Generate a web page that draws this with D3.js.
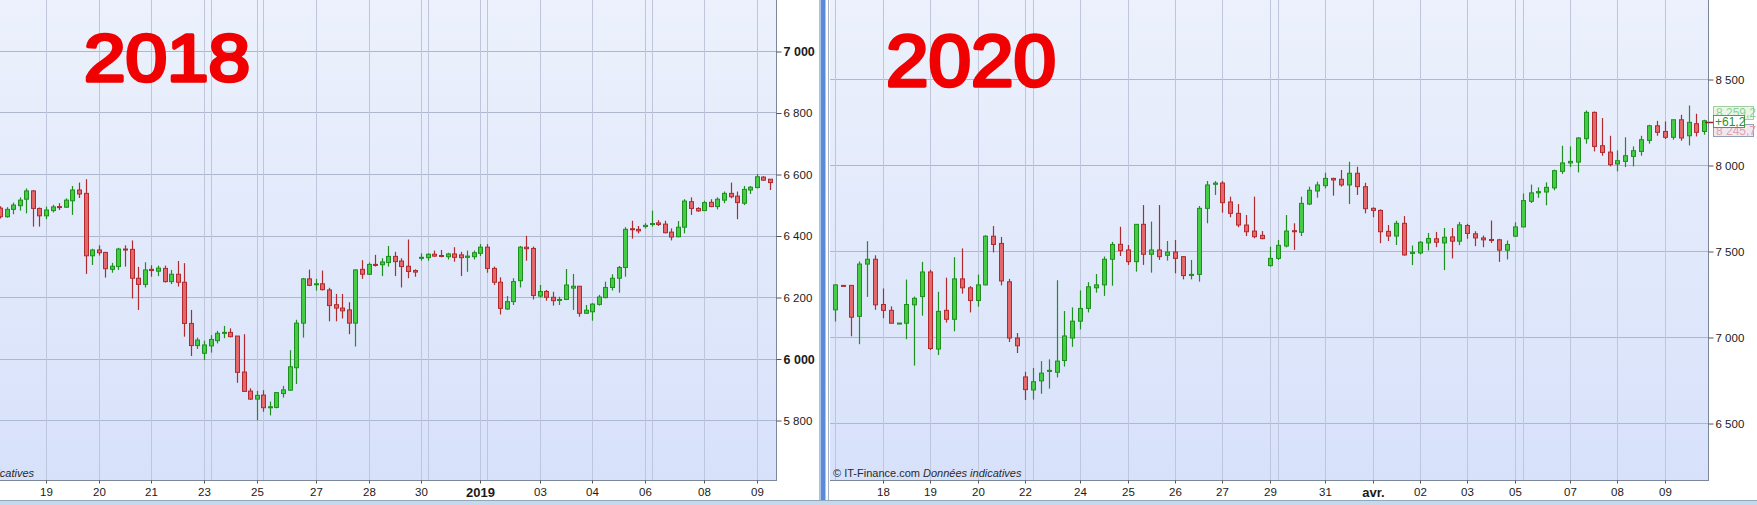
<!DOCTYPE html>
<html>
<head>
<meta charset="utf-8">
<script src="https://cdn.jsdelivr.net/npm/d3@7"></script>
<style>
  html, body { margin: 0; padding: 0; background: #fff; }
  svg { display: block; font-family: "Liberation Sans", Arial, sans-serif; }
</style>
</head>
<body>
<svg id="chart" width="1757" height="505"></svg>
<script>
// each candle is [open, high, low, close]
const candles2018 = [
  [6489, 6495, 6455, 6461], [6461, 6492, 6458, 6485], [6485, 6507, 6469, 6499], [6497, 6524, 6481, 6515],
  [6518, 6553, 6472, 6545], [6545, 6548, 6429, 6488], [6488, 6491, 6429, 6464], [6464, 6494, 6453, 6483],
  [6481, 6500, 6475, 6493], [6494, 6505, 6483, 6491], [6492, 6521, 6490, 6515], [6513, 6561, 6467, 6548],
  [6548, 6572, 6522, 6535], [6537, 6583, 6275, 6334], [6334, 6357, 6304, 6353], [6353, 6368, 6335, 6344],
  [6345, 6347, 6263, 6292], [6290, 6311, 6279, 6300], [6299, 6360, 6288, 6356], [6356, 6368, 6299, 6354],
  [6355, 6384, 6195, 6261], [6261, 6298, 6158, 6241], [6241, 6313, 6231, 6288], [6290, 6303, 6266, 6286],
  [6284, 6302, 6268, 6294], [6293, 6302, 6247, 6250], [6250, 6288, 6242, 6274], [6274, 6317, 6234, 6248],
  [6248, 6310, 6071, 6114], [6114, 6158, 6008, 6042], [6042, 6068, 6031, 6060], [6017, 6058, 5995, 6044],
  [6041, 6076, 6019, 6062], [6058, 6090, 6049, 6082], [6082, 6106, 6066, 6085], [6085, 6098, 6069, 6071],
  [6073, 6073, 5921, 5955], [5956, 6079, 5891, 5893], [5894, 5903, 5865, 5868], [5868, 5895, 5799, 5880],
  [5881, 5897, 5827, 5840], [5840, 5860, 5815, 5843], [5841, 5891, 5838, 5889], [5886, 5911, 5873, 5898],
  [5897, 6027, 5895, 5973], [5970, 6126, 5917, 6115], [6115, 6262, 6068, 6259], [6259, 6289, 6235, 6238],
  [6240, 6259, 6221, 6243], [6243, 6286, 6221, 6224], [6223, 6230, 6121, 6172], [6175, 6210, 6121, 6164],
  [6164, 6210, 6130, 6155], [6158, 6183, 6079, 6115], [6115, 6290, 6039, 6288], [6290, 6320, 6259, 6274],
  [6274, 6312, 6272, 6306], [6306, 6337, 6299, 6303], [6305, 6326, 6268, 6314], [6312, 6366, 6299, 6332],
  [6332, 6347, 6268, 6315], [6317, 6326, 6231, 6299], [6300, 6387, 6261, 6283], [6286, 6290, 6266, 6281],
  [6326, 6342, 6318, 6329], [6328, 6342, 6318, 6339], [6339, 6351, 6331, 6333], [6335, 6353, 6329, 6332],
  [6331, 6344, 6322, 6340], [6340, 6362, 6315, 6329], [6337, 6347, 6268, 6328], [6329, 6351, 6282, 6333],
  [6331, 6351, 6322, 6344], [6342, 6372, 6333, 6362], [6362, 6372, 6279, 6293], [6293, 6299, 6239, 6248],
  [6248, 6264, 6143, 6163], [6161, 6203, 6158, 6185], [6185, 6261, 6174, 6250], [6253, 6366, 6231, 6362],
  [6362, 6399, 6318, 6357], [6358, 6364, 6192, 6205], [6203, 6239, 6198, 6218], [6218, 6223, 6188, 6199],
  [6199, 6217, 6172, 6188], [6189, 6201, 6174, 6192], [6192, 6291, 6190, 6239], [6229, 6275, 6158, 6235],
  [6235, 6235, 6136, 6147], [6147, 6174, 6145, 6157], [6152, 6180, 6123, 6177], [6176, 6207, 6172, 6200],
  [6198, 6250, 6196, 6231], [6231, 6274, 6221, 6261], [6261, 6301, 6214, 6296], [6296, 6427, 6266, 6420],
  [6422, 6448, 6390, 6419], [6420, 6431, 6407, 6415], [6429, 6440, 6423, 6433], [6436, 6481, 6429, 6439],
  [6441, 6450, 6431, 6436], [6437, 6448, 6407, 6409], [6411, 6423, 6384, 6395], [6396, 6447, 6394, 6427],
  [6427, 6518, 6407, 6512], [6510, 6524, 6467, 6488], [6488, 6492, 6477, 6480], [6481, 6513, 6480, 6507],
  [6508, 6518, 6492, 6494], [6494, 6524, 6485, 6518], [6515, 6543, 6505, 6537], [6537, 6572, 6521, 6526],
  [6528, 6543, 6453, 6507], [6505, 6561, 6499, 6550], [6548, 6561, 6535, 6557], [6556, 6600, 6553, 6591],
  [6590, 6593, 6578, 6580], [6583, 6583, 6548, 6572]
]

const candles2020 = [
  [7158, 7305, 7090, 7303], [7300, 7300, 7296, 7296], [7300, 7302, 7004, 7115], [7120, 7439, 6958, 7424],
  [7424, 7557, 7233, 7452], [7452, 7475, 7158, 7187], [7189, 7282, 7109, 7155], [7155, 7178, 7080, 7080],
  [7079, 7081, 7079, 7081], [7080, 7334, 6987, 7189], [7187, 7235, 6834, 7225], [7235, 7437, 7124, 7378],
  [7378, 7391, 6924, 6933], [6930, 7263, 6895, 7149], [7155, 7345, 7084, 7103], [7103, 7464, 7033, 7338],
  [7338, 7515, 7252, 7286], [7286, 7296, 7143, 7212], [7212, 7363, 7176, 7303], [7303, 7592, 7300, 7586],
  [7586, 7645, 7492, 7538], [7544, 7582, 7300, 7326], [7321, 7338, 6971, 6994], [6994, 7023, 6907, 6949],
  [6768, 6798, 6634, 6694], [6692, 6820, 6636, 6740], [6745, 6860, 6670, 6790], [6800, 6870, 6700, 6806],
  [6795, 7330, 6765, 6860], [6863, 7151, 6828, 7006], [6994, 7172, 6943, 7092], [7092, 7271, 7044, 7166],
  [7166, 7319, 7143, 7292], [7286, 7366, 7258, 7303], [7303, 7468, 7239, 7452], [7452, 7553, 7298, 7538],
  [7539, 7641, 7471, 7502], [7506, 7535, 7419, 7438], [7438, 7655, 7380, 7655], [7655, 7767, 7419, 7481],
  [7481, 7671, 7374, 7506], [7506, 7767, 7448, 7467], [7475, 7558, 7444, 7494], [7494, 7564, 7370, 7457],
  [7467, 7471, 7335, 7357], [7358, 7448, 7335, 7364], [7364, 7762, 7322, 7748], [7748, 7907, 7661, 7884],
  [7888, 7907, 7826, 7895], [7895, 7907, 7723, 7781], [7785, 7816, 7696, 7719], [7719, 7773, 7638, 7651],
  [7651, 7709, 7587, 7612], [7616, 7816, 7574, 7583], [7591, 7616, 7568, 7572], [7415, 7525, 7409, 7457],
  [7457, 7564, 7448, 7533], [7529, 7709, 7521, 7616], [7618, 7661, 7506, 7612], [7609, 7816, 7587, 7777],
  [7773, 7874, 7767, 7853], [7849, 7903, 7810, 7884], [7880, 7955, 7864, 7922], [7922, 7926, 7822, 7913],
  [7917, 7971, 7874, 7884], [7884, 8019, 7773, 7952], [7952, 7990, 7826, 7874], [7874, 7897, 7719, 7746],
  [7748, 7754, 7696, 7736], [7736, 7742, 7545, 7612], [7614, 7651, 7558, 7587], [7587, 7676, 7535, 7661],
  [7661, 7703, 7473, 7477], [7486, 7532, 7418, 7493], [7489, 7557, 7480, 7551], [7547, 7605, 7503, 7573],
  [7571, 7611, 7522, 7551], [7547, 7634, 7389, 7580], [7582, 7634, 7457, 7557], [7557, 7669, 7534, 7652],
  [7648, 7658, 7571, 7602], [7600, 7615, 7528, 7576], [7576, 7590, 7522, 7565], [7567, 7677, 7547, 7561],
  [7565, 7571, 7437, 7505], [7505, 7561, 7451, 7538], [7586, 7667, 7582, 7640], [7640, 7834, 7638, 7793],
  [7789, 7886, 7779, 7838], [7838, 7870, 7809, 7845], [7843, 7899, 7766, 7870], [7867, 7973, 7853, 7967],
  [7963, 8112, 7948, 8012], [8012, 8108, 7988, 8021], [8017, 8162, 7957, 8157], [8153, 8317, 8124, 8306],
  [8306, 8311, 8079, 8108], [8112, 8273, 8054, 8073], [8075, 8170, 7992, 8002], [8006, 8085, 7963, 8025],
  [8021, 8161, 7988, 8054], [8050, 8108, 7992, 8083], [8079, 8170, 8054, 8147], [8143, 8234, 8124, 8228],
  [8228, 8257, 8170, 8190], [8195, 8253, 8151, 8161], [8161, 8263, 8147, 8263], [8263, 8292, 8141, 8157],
  [8170, 8346, 8114, 8248], [8240, 8298, 8166, 8190], [8195, 8263, 8176, 8257]
]

// candle index of each labelled day, and of the extra session lines
const dayTicks2018 = [7, 15, 23, 31, 39, 48, 56, 64, 73, 82, 90, 98, 107, 115]
const dayLabels2018 = ['19', '20', '21', '23', '25', '27', '28', '30', '2019', '03', '04', '06', '08', '09']
const sessionLines2018 = [32, 40, 65, 74, 99]

const dayTicks2020 = [6, 12, 18, 24, 31, 37, 43, 49, 55, 62, 68, 74, 80, 86, 93, 99, 105]
const dayLabels2020 = ['18', '19', '20', '22', '24', '25', '26', '27', '29', '31', 'avr.', '02', '03', '05', '07', '08', '09']
const sessionLines2020 = [0, 25, 56, 87]

const priceTicks2018 = [5800, 6000, 6200, 6400, 6600, 6800, 7000]
const boldPrices2018 = [6000, 7000]
const priceTicks2020 = [6500, 7000, 7500, 8000, 8500]
const boldPrices2020 = []

const lastPrice2020 = 8252
const lastQuotes2020 = ['8 259,2', '+61,2', '8 245,7']
const yearNotes = ['2018', '2020']

const W = 1757, H = 505
const axisY = 480

const fr = d3.formatLocale({ decimal: ',', thousands: '\u00a0', grouping: [3], currency: ['', ''] })
const priceFmt = fr.format(',')

const svg = d3.select('#chart')

const defs = svg.append('defs')
const grad = defs.append('linearGradient')
  .attr('id', 'bg').attr('x1', 0).attr('y1', 0).attr('x2', 0).attr('y2', 1)
grad.append('stop').attr('offset', '0%').attr('stop-color', '#ecf1fc')
grad.append('stop').attr('offset', '100%').attr('stop-color', '#d7e1fa')

svg.append('rect').attr('width', W).attr('height', H).attr('fill', '#fff')

function drawPanel (p) {
  const x = d3.scaleLinear().domain([0, p.data.length - 1]).range(p.xRange)
  const y = d3.scaleLinear().domain(p.yDomain).range(p.yRange)
  const cx = i => Math.round(x(i)) + 0.5

  defs.append('clipPath').attr('id', p.id)
    .append('rect')
    .attr('x', p.left).attr('y', 0)
    .attr('width', p.right - p.left).attr('height', axisY)

  const g = svg.append('g')
  const plot = g.append('g').attr('clip-path', `url(#${p.id})`)

  plot.append('rect')
    .attr('x', p.left).attr('y', 0)
    .attr('width', p.right - p.left).attr('height', axisY)
    .attr('fill', 'url(#bg)')

  // grid
  plot.selectAll('.hgrid').data(p.priceTicks)
    .enter().append('line')
    .attr('x1', p.left).attr('x2', p.right)
    .attr('y1', d => Math.round(y(d)) + 0.5).attr('y2', d => Math.round(y(d)) + 0.5)
    .attr('stroke', '#aeb7d0').attr('stroke-width', 1)

  plot.selectAll('.vgrid').data(p.dayTicks.concat(p.sessionLines))
    .enter().append('line')
    .attr('x1', d => cx(d)).attr('x2', d => cx(d))
    .attr('y1', 0).attr('y2', axisY)
    .attr('stroke', '#bfc6dc').attr('stroke-width', 1)

  // candles
  const up = d => d[3] >= d[0]
  const c = plot.selectAll('.candle').data(p.data)
    .enter().append('g')

  c.append('line')
    .attr('x1', (d, i) => cx(i)).attr('x2', (d, i) => cx(i))
    .attr('y1', d => y(d[1])).attr('y2', d => y(d[2]))
    .attr('stroke', d => up(d) ? '#1f8f1f' : '#b02a2e')
    .attr('stroke-width', 1.2)

  c.append('rect')
    .attr('x', (d, i) => cx(i) - 2)
    .attr('width', 4)
    .attr('y', d => Math.min(y(d[0]), y(d[3])))
    .attr('height', d => Math.max(1, Math.abs(y(d[0]) - y(d[3]))))
    .attr('fill', d => up(d) ? '#45cc45' : '#e4686a')
    .attr('stroke', d => up(d) ? '#1f8f1f' : '#b02a2e')
    .attr('stroke-width', 1)

  // copyright line
  const cr = plot.append('text')
    .attr('x', p.copyX).attr('y', 477)
    .attr('text-anchor', p.copyAnchor)
    .attr('font-size', 11).attr('fill', '#2a2a2a')
  cr.append('tspan').text('\u00a9 IT-Finance.com ')
  cr.append('tspan').attr('font-style', 'italic').text('Donn\u00e9es indicatives')

  // borders
  g.append('line')
    .attr('x1', p.right + 0.5).attr('x2', p.right + 0.5)
    .attr('y1', 0).attr('y2', axisY + 1)
    .attr('stroke', '#7d879a')
  g.append('line')
    .attr('x1', p.left).attr('x2', p.right + 1)
    .attr('y1', axisY + 0.5).attr('y2', axisY + 0.5)
    .attr('stroke', '#7d879a')

  // price axis
  const ya = g.append('g')
    .attr('transform', `translate(${p.right + 0.5},0.5)`)
    .call(d3.axisRight(y).tickValues(p.priceTicks).tickSize(5).tickPadding(2).tickFormat(priceFmt))
  ya.select('.domain').remove()
  ya.selectAll('line').attr('stroke', '#555')
  ya.selectAll('text')
    .attr('fill', '#1a1a1a')
    .attr('font-family', '"Liberation Sans", Arial, sans-serif')
    .attr('font-size', d => p.boldPrices.includes(d) ? 12.5 : 11.5)
    .attr('font-weight', d => p.boldPrices.includes(d) ? 'bold' : 'normal')

  // day axis
  const xa = g.append('g')
    .attr('transform', `translate(0.5,${axisY + 0.5})`)
    .call(d3.axisBottom(x).tickValues(p.dayTicks).tickSize(3).tickPadding(4)
      .tickFormat((d, i) => p.dayLabels[i]))
  xa.select('.domain').remove()
  xa.selectAll('.tick').attr('transform', d => `translate(${cx(d) - 0.5},0)`)
  xa.selectAll('line').attr('stroke', '#555')
  xa.selectAll('text')
    .attr('fill', '#1a1a1a')
    .attr('font-family', '"Liberation Sans", Arial, sans-serif')
    .attr('font-size', (d, i) => /^\d\d$/.test(p.dayLabels[i]) ? 11.5 : 13)
    .attr('font-weight', (d, i) => /^\d\d$/.test(p.dayLabels[i]) ? 'normal' : 'bold')

  return { x, y }
}

drawPanel({
  id: 'clip2018',
  data: candles2018,
  left: 0, right: 776,
  xRange: [0, 770],
  yDomain: [5800, 7000], yRange: [420, 51],
  priceTicks: priceTicks2018, boldPrices: boldPrices2018,
  dayTicks: dayTicks2018, dayLabels: dayLabels2018, sessionLines: sessionLines2018,
  copyX: 34, copyAnchor: 'end'
})

const right = drawPanel({
  id: 'clip2020',
  data: candles2020,
  left: 830, right: 1708,
  xRange: [835.3, 1704.3],
  yDomain: [6500, 8500], yRange: [423, 79],
  priceTicks: priceTicks2020, boldPrices: boldPrices2020,
  dayTicks: dayTicks2020, dayLabels: dayLabels2020, sessionLines: sessionLines2020,
  copyX: 833, copyAnchor: 'start'
})

// separator between the two charts
svg.append('rect').attr('x', 820.5).attr('y', 0).attr('width', 5).attr('height', H).attr('fill', '#5b8bd7')
svg.append('line').attr('x1', 819.5).attr('x2', 819.5).attr('y1', 0).attr('y2', H).attr('stroke', '#a9c0e6')
svg.append('line').attr('x1', 828.5).attr('x2', 828.5).attr('y1', 0).attr('y2', H).attr('stroke', '#a4afc4')

// bottom strip
svg.append('rect').attr('x', 0).attr('y', 500).attr('width', W).attr('height', 5).attr('fill', '#c7d9e9')
svg.append('line').attr('x1', 0).attr('x2', W).attr('y1', 500.5).attr('y2', 500.5).attr('stroke', '#8ea8c2')

// last quote markers of the 2020 chart
const ly = Math.round(right.y(lastPrice2020)) + 0.5
svg.append('line').attr('x1', 1705).attr('x2', 1714).attr('y1', ly).attr('y2', ly)
  .attr('stroke', '#8a2a2a').attr('stroke-width', 1.5)
const q = svg.append('g').attr('font-size', 12)
q.append('rect').attr('x', 1713.5).attr('y', 106.5).attr('width', 40).attr('height', 13)
  .attr('fill', '#eaf6ea').attr('stroke', '#9fcf9f')
q.append('text').attr('x', 1716).attr('y', 117).attr('fill', '#8fcf8f').text(lastQuotes2020[0])
q.append('rect').attr('x', 1713.5).attr('y', 124.5).attr('width', 40).attr('height', 12)
  .attr('fill', '#f1e9f0').attr('stroke', '#8f9fb7')
q.append('text').attr('x', 1716).attr('y', 135).attr('fill', '#e0a3ab').text(lastQuotes2020[2])
q.append('rect').attr('x', 1713.5).attr('y', 115.5).attr('width', 31).attr('height', 12)
  .attr('fill', '#ffffff').attr('stroke', '#4f9f4f')
q.append('text').attr('x', 1715).attr('y', 126).attr('fill', '#2f8f2f').text(lastQuotes2020[1])

// red hand-written year notes
const notes = svg.append('g')
  .attr('fill', '#f00000').attr('stroke', '#f00000')
  .attr('stroke-width', 3.5).attr('stroke-linejoin', 'round').attr('stroke-linecap', 'round')
  .attr('font-family', '"Liberation Sans", Arial, sans-serif')
notes.append('text').attr('x', 84).attr('y', 81).attr('font-size', 66)
  .attr('textLength', 166).attr('lengthAdjust', 'spacingAndGlyphs').text(yearNotes[0])
notes.append('text').attr('x', 886).attr('y', 86).attr('font-size', 72)
  .attr('textLength', 170).attr('lengthAdjust', 'spacingAndGlyphs').text(yearNotes[1])
</script>
</body>
</html>
